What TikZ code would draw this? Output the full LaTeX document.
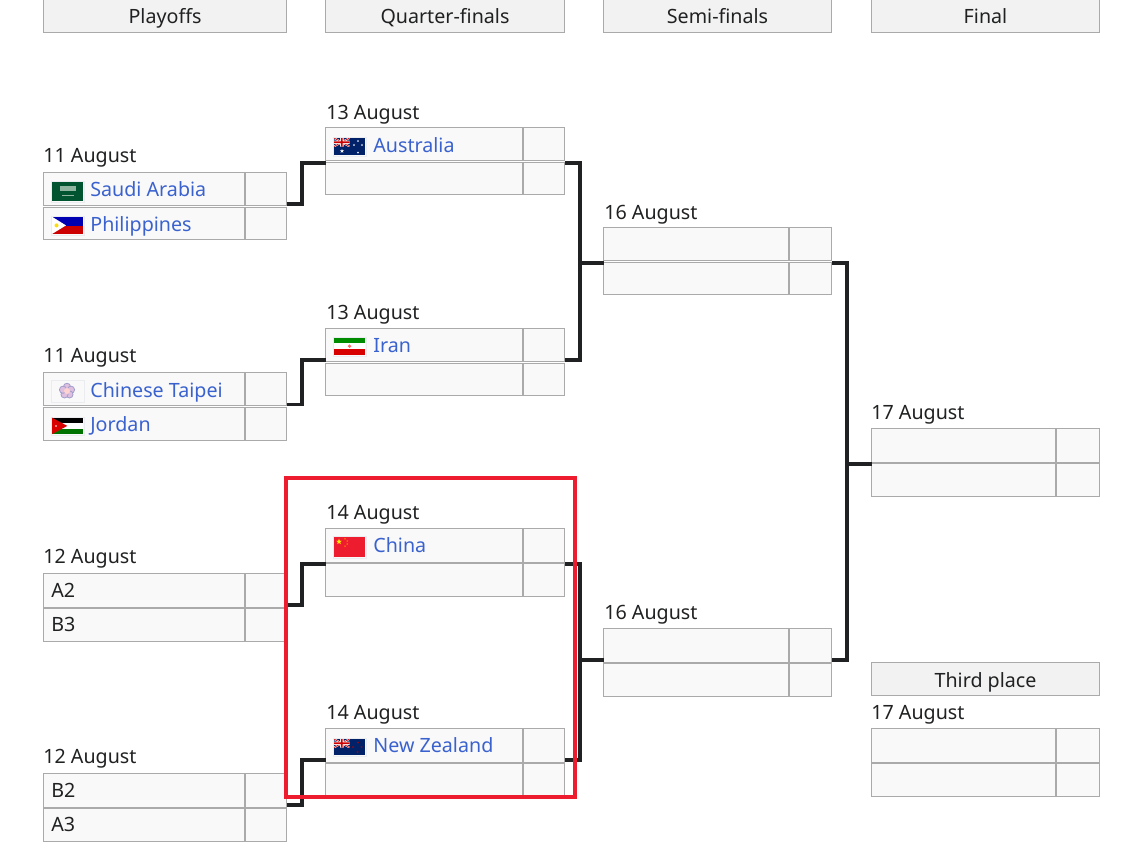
\documentclass[tikz,border=0pt]{standalone}
\usepackage{fontspec}
\usepackage{xcolor}
\setmainfont{Noto Sans}

\definecolor{inkdark}{HTML}{202122}
\definecolor{linkblue}{HTML}{3A62CF}
\definecolor{cellgray}{HTML}{F9F9F9}
\definecolor{headgray}{HTML}{F2F2F2}
\definecolor{edgegray}{HTML}{AAAAAA}
\definecolor{markred}{HTML}{ED1C2E}
\definecolor{paleframe}{HTML}{EAECF0}
\definecolor{jackblue}{HTML}{012169}
\definecolor{saudigreen}{HTML}{005430}
\definecolor{saudipale}{HTML}{8FB5A0}

\tikzset{
    boxcell/.style={draw=edgegray, fill=cellgray, line width=0.02cm, inner sep=0pt, outer sep=0pt, anchor=north west},
    headcell/.style={draw=edgegray, fill=headgray, line width=0.02cm, inner sep=0pt, outer sep=0pt, anchor=north west,
        text=inkdark, font=\fontsize{11.2}{13}\selectfont, text height=0.33cm, text depth=0pt},
    datelabel/.style={anchor=base west, inner sep=0pt, text=inkdark, font=\fontsize{11.2}{13}\selectfont},
    teamlink/.style={anchor=base west, inner sep=0pt, text=linkblue, font=\fontsize{11.2}{13}\selectfont},
    seedlabel/.style={anchor=base west, inner sep=0pt, text=inkdark, font=\fontsize{11.2}{13}\selectfont},
    bracketline/.style={draw=inkdark, line width=0.08cm, line join=miter},
    flagframe/.style={draw=paleframe, line width=0.02cm},
}

% name, left, top, name cell width, score cell width
\newcommand{\matchbox}[5]{
    \node[boxcell, minimum width=#4*0.02cm, minimum height=0.67cm] (#1a) at (#2,#3) {};
    \node[boxcell, minimum width=#5*0.02cm, minimum height=0.67cm] (#1as) at (#2+#4+1,#3) {};
    \node[boxcell, minimum width=#4*0.02cm, minimum height=0.66cm] (#1b) at (#2,#3+34.5) {};
    \node[boxcell, minimum width=#5*0.02cm, minimum height=0.66cm] (#1bs) at (#2+#4+1,#3+34.5) {};
}

\newcommand{\unionjack}[2]{
    \begin{scope}[shift={(#1,#2)}]
        \clip (0,0) rectangle (15.5,8.5);
        \fill[jackblue] (0,0) rectangle (15.5,8.5);
        \draw[white, line width=0.035cm] (0,0) -- (15.5,8.5) (0,8.5) -- (15.5,0);
        \draw[red!80!black, line width=0.015cm] (0,0) -- (15.5,8.5) (0,8.5) -- (15.5,0);
        \fill[white] (6,0) rectangle (9.5,8.5) (0,2.7) rectangle (15.5,5.8);
        \fill[red!80!black] (6.8,0) rectangle (8.7,8.5) (0,3.4) rectangle (15.5,5.1);
    \end{scope}
}

\newcommand{\flagstar}[4]{
    \fill[#4, shift={(#1,#2)}] (-90:#3) -- (-54:#3*0.4) -- (-18:#3) -- (18:#3*0.4) -- (54:#3) -- (90:#3*0.4)
        -- (126:#3) -- (162:#3*0.4) -- (198:#3) -- (234:#3*0.4) -- cycle;
}

\begin{document}
\begin{tikzpicture}[x=0.02cm, y=-0.02cm]
    \path[use as bounding box, clip] (0,0) rectangle (1124,848);

    \node[headcell, minimum width=243*0.02cm, minimum height=0.7cm] (headplayoffs) at (43.5,-2.5) {Playoffs};
    \node[headcell, minimum width=239*0.02cm, minimum height=0.7cm] (headquarter) at (325.5,-2.5) {Quarter-finals};
    \node[headcell, minimum width=228*0.02cm, minimum height=0.7cm] (headsemi) at (603.5,-2.5) {Semi-finals};
    \node[headcell, minimum width=228*0.02cm, minimum height=0.7cm] (headfinal) at (871.5,-2.5) {Final};
    \node[headcell, minimum width=228*0.02cm, minimum height=0.66cm] (headthird) at (871.5,662.5) {Third place};

    \matchbox{pa}{43.5}{172.5}{201}{41}
    \matchbox{pb}{43.5}{372.5}{201}{41}
    \matchbox{pc}{43.5}{573.5}{201}{41}
    \matchbox{pd}{43.5}{773.5}{201}{41}
    \matchbox{qa}{325.5}{127.5}{197}{41}
    \matchbox{qb}{325.5}{328.5}{197}{41}
    \matchbox{qc}{325.5}{528.5}{197}{41}
    \matchbox{qd}{325.5}{728.5}{197}{41}
    \matchbox{sa}{603.5}{227.5}{185}{42}
    \matchbox{sb}{603.5}{628.5}{185}{42}
    \matchbox{fa}{871.5}{428.5}{184}{43}
    \matchbox{ta}{871.5}{728.5}{184}{43}

    \node[datelabel] (datepa) at (43,162.5) {11 August};
    \node[datelabel] (datepb) at (43,362.5) {11 August};
    \node[datelabel] (datepc) at (43,563) {12 August};
    \node[datelabel] (datepd) at (43,763) {12 August};
    \node[datelabel] (dateqa) at (326,119) {13 August};
    \node[datelabel] (dateqb) at (326,319) {13 August};
    \node[datelabel] (dateqc) at (326,519) {14 August};
    \node[datelabel] (dateqd) at (326,719) {14 August};
    \node[datelabel] (datesa) at (604,219) {16 August};
    \node[datelabel] (datesb) at (604,619) {16 August};
    \node[datelabel] (datefa) at (871,419) {17 August};
    \node[datelabel] (dateta) at (871,719) {17 August};

    \node[teamlink] (saudi) at (90,196) {Saudi Arabia};
    \node[teamlink] (philippines) at (90,231) {Philippines};
    \node[teamlink] (taipei) at (90,397) {Chinese Taipei};
    \node[teamlink] (jordan) at (90,431) {Jordan};
    \node[teamlink] (australia) at (373,152) {Australia};
    \node[teamlink] (iran) at (373,352) {Iran};
    \node[teamlink] (china) at (373,552) {China};
    \node[teamlink] (newzealand) at (373,752) {New Zealand};
    \node[seedlabel] (seedatwo) at (51,597) {A2};
    \node[seedlabel] (seedbthree) at (51,631) {B3};
    \node[seedlabel] (seedbtwo) at (51,797) {B2};
    \node[seedlabel] (seedathree) at (51,831) {A3};

    \draw[flagframe] (51,181.5) rectangle (84,202);
    \fill[saudigreen] (52,182.3) rectangle (83.3,201.3);
    \fill[saudipale] (60,186) rectangle (75.7,190.7);
    \draw[saudipale, line width=0.012cm] (62,195) -- (74,195);

    \draw[flagframe] (51,216) rectangle (84,235);
    \fill[blue!70!black] (52,216.7) rectangle (83,225.5);
    \fill[red!80!black] (52,225.5) rectangle (83,234);
    \fill[white] (52,216.7) -- (66,225.4) -- (52,234) -- cycle;
    \fill[yellow!80!orange] (56.5,225.4) circle (2);

    \draw[flagframe] (51,380.5) rectangle (84,402);
    \foreach \petal in {-90,-18,54,126,198} {
        \fill[violet!25!white, draw=blue!30!gray!60, line width=0.015cm] (67,391) ++(\petal:4.2) circle (3.6);
    }
    \fill[pink!70!white] (67,391) circle (3);

    \draw[flagframe] (51,417) rectangle (84,435);
    \fill[black] (52,417.7) rectangle (83,423.2);
    \fill[white] (52,423.2) rectangle (83,428.6);
    \fill[green!45!black] (52,428.6) rectangle (83,434);
    \fill[red!85!black] (52,417.7) -- (67.3,425.9) -- (52,434) -- cycle;
    \fill[white] (56,425.9) circle (0.9);

    \draw[flagframe] (333,137) rectangle (366,156);
    \fill[jackblue] (334,138) rectangle (365,155);
    \unionjack{334}{138}
    \flagstar{342}{151}{2.2}{white}
    \flagstar{358}{141}{1.1}{white}
    \flagstar{362}{145}{1.1}{white}
    \flagstar{354}{145}{1.1}{white}
    \flagstar{358}{152.5}{1.1}{white}

    \draw[flagframe] (333,337) rectangle (366,356);
    \fill[green!55!black] (334,337.7) rectangle (365,343.3);
    \fill[white] (334,343.3) rectangle (365,349);
    \fill[red!85!black] (334,349) rectangle (365,355);
    \fill[red!60!white] (349.5,346.2) circle (1.8);

    \draw[flagframe] (333,536) rectangle (366,558);
    \fill[markred] (334,537) rectangle (365.3,557);
    \flagstar{339}{541.7}{3}{yellow}
    \flagstar{345}{538.8}{1}{orange}
    \flagstar{347.2}{541}{1}{orange}
    \flagstar{347.2}{544}{1}{orange}
    \flagstar{345}{546.2}{1}{orange}

    \draw[flagframe] (333,738) rectangle (366,756);
    \fill[jackblue] (334,739) rectangle (365,755);
    \unionjack{334}{739}
    \flagstar{358}{742.5}{1.2}{red!70!black}
    \flagstar{353}{747}{1.2}{red!70!black}
    \flagstar{361.5}{747}{1.2}{red!70!black}
    \flagstar{357.5}{752}{1.2}{red!70!black}

    \coordinate (paout) at ([yshift=0.04cm]paas.south east);
    \coordinate (pbout) at ([yshift=0.03cm]pbas.south east);
    \coordinate (pcout) at ([yshift=0.04cm]pcas.south east);
    \coordinate (pdout) at ([yshift=0.04cm]pdas.south east);
    \coordinate (qain) at ([yshift=-0.05cm]qaa.south west);
    \coordinate (qbin) at ([yshift=0.04cm]qba.south west);
    \coordinate (qcin) at ([yshift=-0.04cm]qca.south west);
    \coordinate (qdin) at ([yshift=0.04cm]qda.south west);
    \coordinate (qaout) at ([yshift=-0.05cm]qaas.south east);
    \coordinate (qbout) at ([yshift=0.04cm]qbas.south east);
    \coordinate (qcout) at ([yshift=-0.04cm]qcas.south east);
    \coordinate (qdout) at ([yshift=0.04cm]qdas.south east);
    \coordinate (sain) at ([yshift=-0.05cm]saa.south west);
    \coordinate (sbin) at ([yshift=0.04cm]sba.south west);
    \coordinate (saout) at ([yshift=-0.05cm]saas.south east);
    \coordinate (sbout) at ([yshift=0.04cm]sbas.south east);
    \coordinate (fain) at ([yshift=-0.035cm]faa.south west);
    \coordinate (elbowq) at (301.5,0);
    \coordinate (elbows) at (580,0);
    \coordinate (elbowf) at (846.7,0);

    \draw[bracketline] (paout) -- (paout -| elbowq) -- (qain -| elbowq) -- (qain);
    \draw[bracketline] (pbout) -- (pbout -| elbowq) -- (qbin -| elbowq) -- (qbin);
    \draw[bracketline] (pcout) -- (pcout -| elbowq) -- (qcin -| elbowq) -- (qcin);
    \draw[bracketline] (pdout) -- (pdout -| elbowq) -- (qdin -| elbowq) -- (qdin);
    \draw[bracketline] (qaout) -- (qaout -| elbows) -- (qbout -| elbows) -- (qbout);
    \draw[bracketline] (qcout) -- (qcout -| elbows) -- (qdout -| elbows) -- (qdout);
    \draw[bracketline] (saout) -- (saout -| elbowf) -- (sbout -| elbowf) -- (sbout);
    \draw[bracketline] (sain -| elbows) -- (sain);
    \draw[bracketline] (sbin -| elbows) -- (sbin);
    \draw[bracketline] (fain -| elbowf) -- (fain);

    \draw[markred, line width=0.08cm] (285.5,478) rectangle (574.7,796.7);
\end{tikzpicture}
\end{document}
